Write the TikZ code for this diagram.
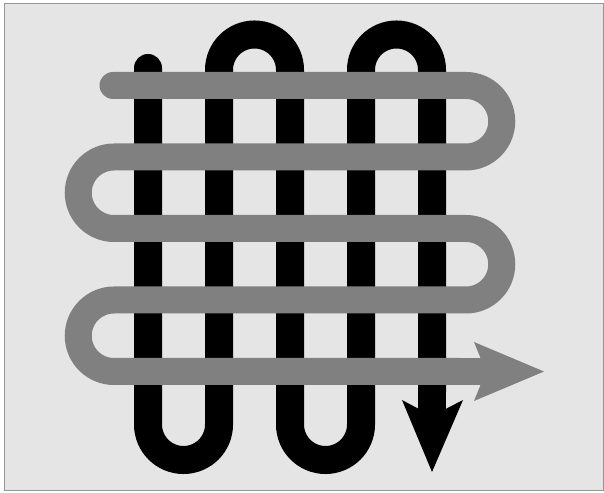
\documentclass[tikz,border=0pt]{standalone}
\definecolor{bgc}{RGB}{229,229,229}
\definecolor{framec}{RGB}{150,150,150}
\definecolor{grayline}{RGB}{128,128,128}
\tikzset{
  frame/.style={draw=framec, line width=1.5pt, fill=bgc},
  blackpath/.style={draw=black, line width=28pt, line cap=round},
  graypath/.style={draw=grayline, line width=27pt, line cap=round},
  blackhead/.style={fill=black},
  grayhead/.style={fill=grayline}
}
\begin{document}
\begin{tikzpicture}[x=1pt,y=1pt]
\useasboundingbox (0,0) rectangle (604,492);
\draw[frame] (4.5,1.5) rectangle (603.5,488.5);
% black vertical serpentine
\coordinate (bs) at (148,424);
\coordinate (be) at (432,74);
\draw[blackpath] (bs) -- (148,67.5) arc[start angle=180,end angle=360,radius=35.5]
  -- (219,422) arc[start angle=180,end angle=0,radius=35.5]
  -- (290,67.5) arc[start angle=180,end angle=360,radius=35.5]
  -- (361,422) arc[start angle=180,end angle=0,radius=35.5]
  -- (432,100);
\draw[draw=black, line width=28pt, line cap=butt] (432,105) -- (be);
\fill[blackhead] (402,92) -- (432,20) -- (463,92) -- (432,76) -- cycle;
% gray horizontal serpentine
\coordinate (gs) at (113,406.5);
\coordinate (ge) at (488,120.5);
\draw[graypath] (gs) -- (466,406.5) arc[start angle=90,end angle=-90,radius=35.75]
  -- (114,335) arc[start angle=90,end angle=270,radius=35.75]
  -- (466,263.5) arc[start angle=90,end angle=-90,radius=35.75]
  -- (114,192) arc[start angle=90,end angle=270,radius=35.75]
  -- (460,120.5);
\draw[draw=grayline, line width=27pt, line cap=butt] (455,120.5) -- (ge);
\fill[grayhead] (474,150) -- (544,120.5) -- (474,91) -- (486,120.5) -- cycle;
\end{tikzpicture}
\end{document}
